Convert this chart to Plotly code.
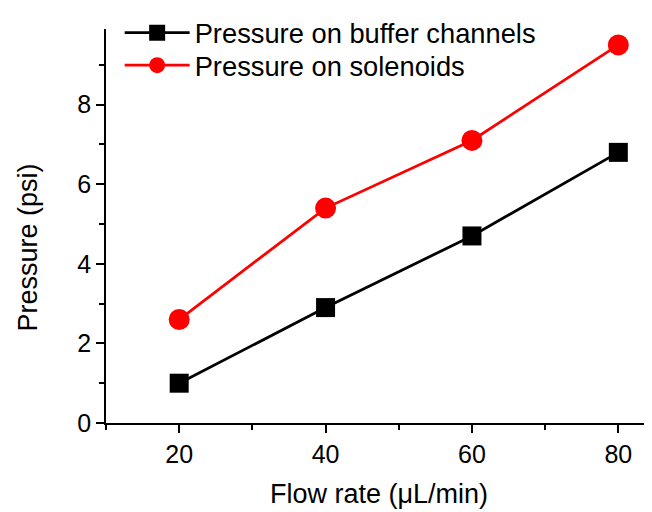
import plotly.graph_objects as go

flow_rate = [20, 40, 60, 80]
pressure_buffer = [1.0, 2.9, 4.7, 6.8]
pressure_solenoid = [2.6, 5.4, 7.1, 9.5]
series_names = ["Pressure on buffer channels", "Pressure on solenoids"]
x_title = "Flow rate (μL/min)"
y_title = "Pressure (psi)"

FONT = "Liberation Sans, Arial, sans-serif"

fig = go.Figure()
fig.add_trace(go.Scatter(
    x=flow_rate, y=pressure_buffer, name=series_names[0], mode="lines+markers",
    line=dict(color="black", width=2.8),
    marker=dict(symbol="square", size=19, color="black"),
    cliponaxis=False, legend="legend",
))
fig.add_trace(go.Scatter(
    x=flow_rate, y=pressure_solenoid, name=series_names[1], mode="lines+markers",
    line=dict(color="#ff0000", width=2.8),
    marker=dict(symbol="circle", size=21, color="#ff0000"),
    cliponaxis=False, legend="legend2",
))

axis_common = dict(
    showline=True, linecolor="black", linewidth=1.5,
    showgrid=False, zeroline=False, ticks="outside", ticklen=8,
    tickwidth=1.5, tickcolor="black", automargin=False,
    tickfont=dict(size=25, family=FONT),
)

legend_common = dict(
    x=0.025, xanchor="left", yanchor="middle",
    bgcolor="rgba(0,0,0,0)", font=dict(size=27.3, family=FONT),
    itemwidth=65, tracegroupgap=0,
)

# page body has an 8px default margin, so the figure is 8px smaller
fig.update_layout(
    width=644, height=504,
    margin=dict(l=98, r=0, t=15, b=89),
    plot_bgcolor="white", paper_bgcolor="white",
    font=dict(family=FONT, size=27, color="black"),
    showlegend=True,
    legend=dict(y=0.99, **legend_common),
    legend2=dict(y=0.9075, **legend_common),
    xaxis=dict(
        range=[10, 84.6], tickvals=[20, 40, 60, 80],
        minor=dict(ticks="outside", tickvals=[10, 30, 50, 70], ticklen=5, tickwidth=1.5, tickcolor="black"),
        **axis_common,
    ),
    yaxis=dict(
        range=[0, 9.9], tickvals=[0, 2, 4, 6, 8],
        minor=dict(ticks="outside", tickvals=[1, 3, 5, 7, 9], ticklen=5, tickwidth=1.5, tickcolor="black"),
        **axis_common,
    ),
    annotations=[
        dict(text=x_title, xref="paper", yref="paper", x=0.5, y=-0.18,
             xanchor="center", yanchor="middle", showarrow=False,
             font=dict(size=27, family=FONT)),
        dict(text=y_title, xref="paper", yref="paper", x=-0.143, y=0.445,
             xanchor="center", yanchor="middle", showarrow=False, textangle=-90,
             font=dict(size=27, family=FONT)),
    ],
)

fig.write_html("out.html")
